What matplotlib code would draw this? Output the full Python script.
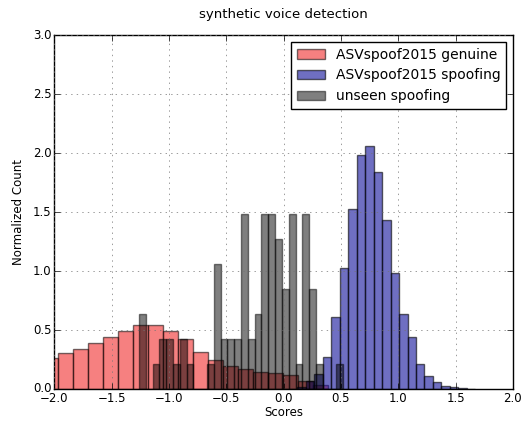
import numpy as np
import matplotlib
matplotlib.use('Agg')
import matplotlib.pyplot as plt

# histogram bin edges and normalized heights
genuine_edges = np.linspace(-2.097, 0.388, 20)
genuine_heights = [0.265, 0.308, 0.339, 0.387, 0.438, 0.490, 0.542, 0.542, 0.490, 0.420,
                   0.316, 0.250, 0.198, 0.167, 0.147, 0.133, 0.119, 0.068, 0.030]

spoof_edges = np.linspace(0.120, 1.672, 22)
spoof_heights = [0.015, 0.065, 0.130, 0.274, 0.607, 1.028, 1.525, 1.983, 2.062, 1.842, 1.432,
                 0.980, 0.633, 0.438, 0.209, 0.113, 0.057, 0.025, 0.014, 0.008, 0.004]

# unseen set is small: counts per bin times one count's density height
unseen_edges = np.linspace(-1.262, 0.519, 31)
unseen_counts = [3, 0, 1, 2, 2, 1, 2, 1, 0, 0, 1, 5, 2, 2, 2, 7, 2, 3, 7, 7,
                 6, 4, 7, 1, 7, 4, 1, 0, 0, 1]
unseen_unit = 0.2115

plt.style.use('classic')
plt.rcParams['font.family'] = ['DejaVu Sans']
plt.rcParams['font.size'] = 8.5
plt.rcParams['grid.color'] = '0.45'

fig = plt.figure(figsize=(5.25, 4.22), dpi=100, facecolor='white')
ax = fig.add_axes([0.1036, 0.0782, 0.8734, 0.8388])

unseen_heights = [c * unseen_unit for c in unseen_counts]

ax.hist(genuine_edges[:-1], bins=genuine_edges, weights=genuine_heights,
        color='#f01818', alpha=0.55, label='ASVspoof2015 genuine')
ax.hist(spoof_edges[:-1], bins=spoof_edges, weights=spoof_heights,
        color='#10109a', alpha=0.6, label='ASVspoof2015 spoofing')
ax.hist(unseen_edges[:-1], bins=unseen_edges, weights=unseen_heights,
        color='black', alpha=0.5, label='unseen spoofing')

ax.set_xlim(-2.0, 2.0)
ax.set_ylim(0, 3.0)
ax.set_xticks(np.arange(-2.0, 2.01, 0.5))
ax.set_yticks(np.arange(0, 3.01, 0.5))
ax.tick_params(pad=2)
ax.grid(True)
ax.set_xlabel('Scores', fontsize=8.5, labelpad=1)
ax.set_ylabel('Normalized Count', fontsize=8.5, labelpad=6)
ax.set_title('synthetic voice detection', fontsize=9.5, pad=12)
ax.legend(loc='upper right', fontsize=10)

fig.savefig('out.png', dpi=100, facecolor='white')
